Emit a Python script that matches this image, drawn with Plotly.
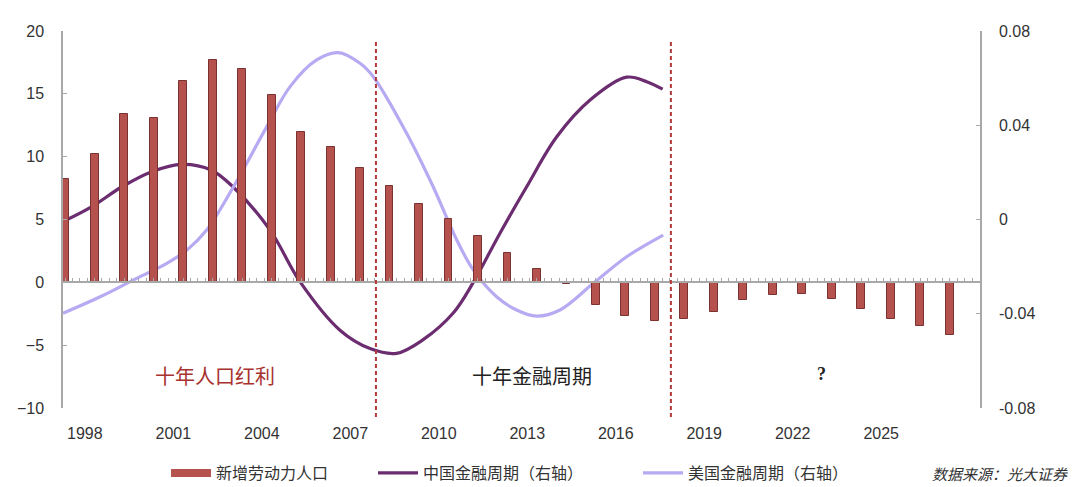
import plotly.graph_objects as go

# ---- data ----
bar_years = list(range(1997, 2028))
labor = [8.25, 10.2, 13.4, 13.1, 16.0, 17.7, 17.0, 14.9, 12.0, 10.8, 9.1,
         7.66, 6.26, 5.07, 3.66, 2.33, 1.03, -0.1, -1.83, -2.65, -3.08, -2.89,
         -2.33, -1.43, -0.98, -0.9, -1.3, -2.1, -2.89, -3.47, -4.2]

cn_t = [1996.93, 1997.85, 1998.93, 1999.94, 2000.96, 2001.95, 2002.69, 2003.95,
        2004.97, 2006.32, 2007.34, 2008.24, 2009.14, 2010.16, 2010.84,
        2011.75, 2012.65, 2013.67, 2014.80, 2016.04, 2016.72, 2017.26]
cn_v = [-0.0009, 0.005, 0.0139, 0.0203, 0.0234, 0.021, 0.0139, -0.0045,
        -0.0265, -0.047, -0.0548, -0.0568, -0.051, -0.0397, -0.0267,
        -0.0057, 0.0139, 0.0351, 0.0507, 0.0604, 0.0585, 0.0553]

us_t = [1996.93, 1998.19, 1999.31, 2000.45, 2001.13, 2001.80, 2002.71, 2003.84,
        2004.63, 2005.53, 2006.26, 2007.0, 2007.45, 2008.58, 2009.48, 2010.28,
        2010.84, 2011.63, 2012.31, 2012.99, 2013.78, 2014.91, 2016.04, 2017.28]
us_v = [-0.0398, -0.0328, -0.0257, -0.0186, -0.013, -0.0045, 0.0139, 0.0394,
        0.0564, 0.0677, 0.0708, 0.0663, 0.0606, 0.0366, 0.0139, -0.0087,
        -0.0214, -0.0328, -0.0384, -0.041, -0.0384, -0.0271, -0.0158, -0.0066]

tick_years = [1998, 2001, 2004, 2007, 2010, 2013, 2016, 2019, 2022, 2025]
left_ticks = [-10, -5, 0, 5, 10, 15, 20]
right_ticks = [-0.08, -0.04, 0, 0.04, 0.08]
right_labels = ["-0.08", "-0.04", "0", "0.04", "0.08"]

divider_years = [2007.54, 2017.54]
period_labels = ["十年人口红利", "十年金融周期", "?"]
period_x = [2002.08, 2012.82, 2022.65]
period_y = [-7.4, -7.4, -7.3]

names = ["新增劳动力人口", "中国金融周期（右轴）", "美国金融周期（右轴）"]
source_text = "数据来源：光大证券"

BAR = "#B5524E"
CN = "#6B2C70"
US = "#B8AAF2"
AX = "#A8A8A8"
TXT = "#333333"
XR = [1996.93, 2028.02]
TICKFONT = dict(family="Liberation Sans, Arial", size=16, color=TXT)
CJK = "Noto Sans CJK SC"

fig = go.Figure()
fig.add_trace(go.Bar(x=bar_years, y=labor, xaxis="x2", yaxis="y", width=0.27,
                     marker=dict(color=BAR, line=dict(color="#7A3230", width=1)),
                     showlegend=False))
fig.add_trace(go.Scatter(x=[None], y=[None], mode="lines", name=names[0],
                         line=dict(color=BAR, width=8), legend="legend"))
fig.add_trace(go.Scatter(x=cn_t, y=cn_v, xaxis="x", yaxis="y2", mode="lines",
                         name=names[1], legend="legend2",
                         line=dict(color=CN, width=3.2, shape="spline", smoothing=1)))
fig.add_trace(go.Scatter(x=us_t, y=us_v, xaxis="x", yaxis="y2", mode="lines",
                         name=names[2], legend="legend3",
                         line=dict(color=US, width=3.2, shape="spline", smoothing=1)))

for xv in divider_years:
    fig.add_shape(type="line", xref="x", yref="paper", x0=xv, x1=xv,
                  y0=-0.024, y1=0.971,
                  line=dict(color="#B23A3A", width=2, dash="4px,3px"))

colors = ["#A8322E", "#222222", "#222222"]
for lab, xv, yv, c in zip(period_labels, period_x, period_y, colors):
    fam = "Liberation Serif" if lab == "?" else CJK
    fig.add_annotation(x=xv, y=yv, xref="x", yref="y",
                       text=("<b>?</b>" if lab == "?" else lab),
                       showarrow=False,
                       font=dict(family=fam, size=20 if lab != "?" else 18, color=c))

# source note at the bottom-right corner
fig.add_annotation(x=(930 - 63) / 917, y=(408 - 486) / 377, xref="paper", yref="paper",
                   text="<i>" + source_text + "</i>", showarrow=False,
                   xanchor="left", yanchor="bottom",
                   font=dict(family=CJK, size=15, color=TXT))

legfont = dict(family=CJK, size=16, color=TXT)
common = dict(orientation="h", xref="container", yref="container", yanchor="middle",
              xanchor="left", font=legfont, bgcolor="rgba(0,0,0,0)", itemwidth=40)
ly = 1 - 473 / 487
fig.update_layout(
    width=1080, height=487,
    margin=dict(l=63, r=100, t=30.5, b=79),
    paper_bgcolor="white", plot_bgcolor="white",
    bargap=0,
    legend=dict(x=166 / 1080, y=ly, **common),
    legend2=dict(x=373 / 1080, y=ly, **common),
    legend3=dict(x=638 / 1080, y=ly, **common),
    xaxis=dict(range=XR, tickvals=[y - 0.33 for y in tick_years],
               ticktext=[str(y) for y in tick_years], ticks="", showline=False,
               showgrid=False, zeroline=False, tickfont=TICKFONT, ticklabelstandoff=14),
    xaxis2=dict(range=XR, overlaying="x", anchor="free", position=1 / 3,
                showline=True, linecolor=AX, linewidth=1.5, ticks="inside", ticklen=4,
                tickcolor=AX, tickwidth=1, tick0=1997, dtick=0.25,
                showticklabels=False, showgrid=False, zeroline=False),
    yaxis=dict(range=[-10, 20], tickvals=left_ticks, showline=True, linecolor=AX,
               linewidth=1.5, ticks="inside", ticklen=4, tickcolor=AX,
               showgrid=False, zeroline=False, tickfont=TICKFONT, ticklabelstandoff=14),
    yaxis2=dict(range=[-0.08, 0.08], overlaying="y", side="right", anchor="x",
                tickvals=right_ticks, ticktext=right_labels, showline=True,
                linecolor=AX, linewidth=1.5, ticks="inside", ticklen=4, tickcolor=AX,
                showgrid=False, zeroline=False, tickfont=TICKFONT, ticklabelstandoff=14),
)

fig.write_html("out.html")
